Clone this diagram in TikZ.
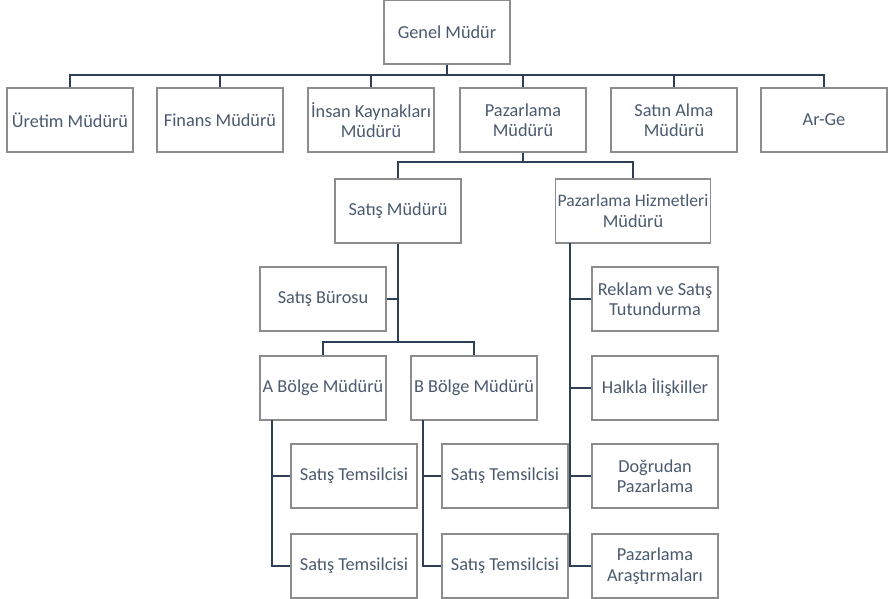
\documentclass[tikz,border=0pt]{standalone}
\usepackage{fontspec}
\setmainfont{Carlito}
\definecolor{boxgray}{HTML}{8C8C8C}
\definecolor{linenavy}{HTML}{2E4057}
\definecolor{textblue}{HTML}{4A5A70}
\tikzset{
  unit/.style={draw=boxgray, line width=0.6pt, fill=white, minimum width=25.2mm,
    minimum height=12.8mm, align=center, text=textblue, inner sep=1pt,
    font=\fontsize{10.4}{11.6}\selectfont},
  wideunit/.style={unit, minimum width=31mm, inner xsep=0pt},
  link/.style={draw=linenavy, line width=1.2pt}
}
\begin{document}
\begin{tikzpicture}[x=0.2mm,y=-0.2mm]
\useasboundingbox (0,0) rectangle (890,598);

% General manager
\node[unit] (genel) at (447,32) {Genel Müdür};
\coordinate (top bus) at (447,75);

% Department heads
\foreach \x/\id/\lab in {70/uretim/Üretim Müdürü, 220/finans/Finans Müdürü,
    371/insan/İnsan Kaynakları\\Müdürü, 523/pazar/Pazarlama\\Müdürü,
    674/satin/Satın Alma\\Müdürü, 824/arge/Ar-Ge} {
  \node[unit] (\id) at (\x,120) {\lab};
}
\draw[link] (genel) -- (top bus);
\foreach \id in {uretim, finans, insan, pazar, satin, arge}
  \draw[link] (top bus) -| (\id);

% Marketing branch
\node[unit] (satis) at (398,211) {Satış Müdürü};
\node[wideunit] (hizmet) at (633,211) {\fontsize{10}{11.6}\selectfont Pazarlama Hizmetleri\\Müdürü};
\coordinate (pz bus) at (523,162);
\draw[link] (pazar) -- (pz bus);
\draw[link] (pz bus) -| (satis);
\draw[link] (pz bus) -| (hizmet);

% Sales side
\node[unit] (buro) at (323,299) {Satış Bürosu};
\node[unit] (abolge) at (323,388) {A Bölge Müdürü};
\node[unit] (bbolge) at (474,388) {B Bölge Müdürü};
\coordinate (sm bus) at (398,342);
\draw[link] (satis) -- (sm bus);
\draw[link] (buro.east) -- (buro.east -| sm bus);
\draw[link] (sm bus) -| (abolge);
\draw[link] (sm bus) -| (bbolge);

% Sales representatives
\node[unit] (atem1) at (354,476) {Satış Temsilcisi};
\node[unit] (atem2) at (354,566) {Satış Temsilcisi};
\node[unit] (btem1) at (505,476) {Satış Temsilcisi};
\node[unit] (btem2) at (505,566) {Satış Temsilcisi};
\coordinate (a root) at (272,420);
\coordinate (b root) at (423,420);
\draw[link] (a root) |- (atem1.west);
\draw[link] (a root) |- (atem2.west);
\draw[link] (b root) |- (btem1.west);
\draw[link] (b root) |- (btem2.west);

% Marketing services
\node[unit] (reklam) at (655,299) {Reklam ve Satış\\Tutundurma};
\node[unit] (halkla) at (655,388) {Halkla İlişkiller};
\node[unit] (dogrudan) at (655,476) {Doğrudan\\Pazarlama};
\node[unit] (arastirma) at (655,566) {Pazarlama\\Araştırmaları};
\coordinate (h root) at (570,243);
\foreach \id in {reklam, halkla, dogrudan, arastirma}
  \draw[link] (h root) |- (\id.west);
\end{tikzpicture}
\end{document}
